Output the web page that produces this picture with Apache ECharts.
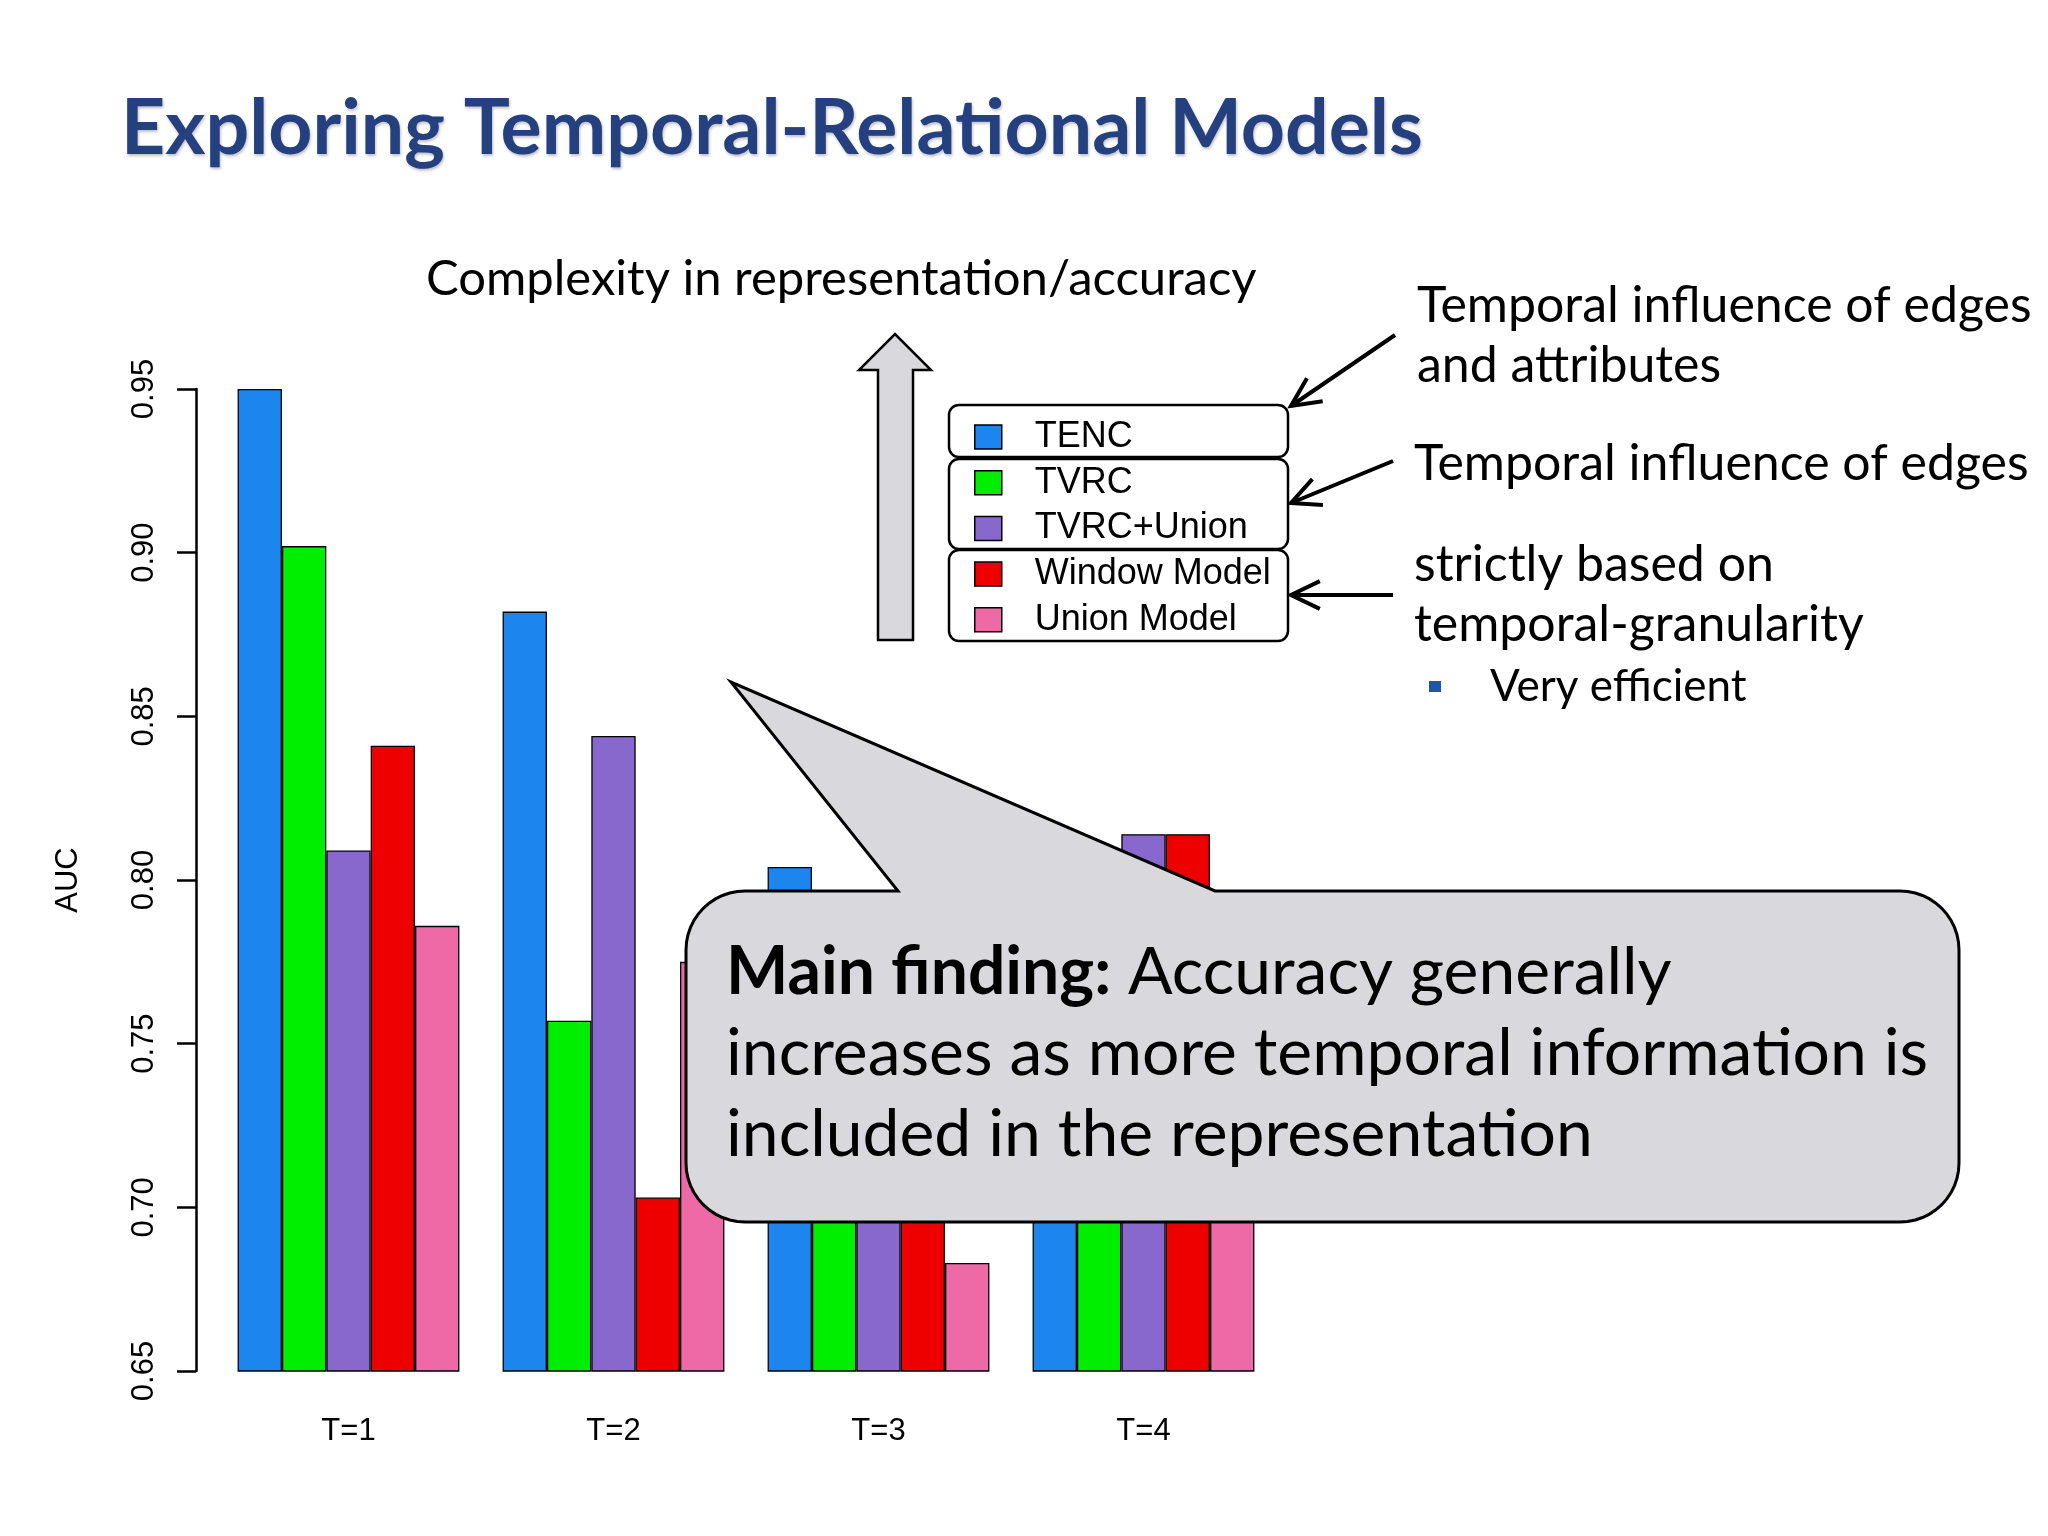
<!DOCTYPE html>
<html>
<head>
<meta charset="utf-8">
<title>Exploring Temporal-Relational Models</title>
<script src="https://cdn.jsdelivr.net/npm/echarts@6/dist/echarts.min.js"></script>
<style>
  html, body { margin: 0; padding: 0; background: #fff; }
  #main { width: 2048px; height: 1536px; }
</style>
</head>
<body>
<div id="main"></div>
<script>
// AUC per time window, one array per model
var categories = ['T=1', 'T=2', 'T=3', 'T=4'];
var seriesNames = ['TENC', 'TVRC', 'TVRC+Union', 'Window Model', 'Union Model'];
var tenc = [0.950, 0.882, 0.804, 0.810];
var tvrc = [0.902, 0.757, 0.770, 0.780];
var tvrcUnion = [0.809, 0.844, 0.785, 0.814];
var windowModel = [0.841, 0.703, 0.760, 0.814];
var unionModel = [0.786, 0.775, 0.683, 0.740];
var colors = ['#1C86EE', '#00EE00', '#8968CD', '#EE0000', '#EE6AA7'];

var slideFont = 'Lato, "Open Sans", sans-serif';
var plotFont = '"Liberation Sans", Arial, sans-serif';

var chart = echarts.init(document.getElementById('main'));

// line with an open arrow head at (x2, y2)
function arrow(x1, y1, x2, y2) {
  var a = Math.atan2(y1 - y2, x1 - x2);
  var len = 32, spread = 0.45;
  var st = { stroke: '#000', lineWidth: 4, fill: null };
  return [{
    type: 'line', z: 50,
    shape: { x1: x1, y1: y1, x2: x2, y2: y2 },
    style: st
  }, {
    type: 'polyline', z: 50,
    shape: { points: [
      [x2 + len * Math.cos(a + spread), y2 + len * Math.sin(a + spread)],
      [x2, y2],
      [x2 + len * Math.cos(a - spread), y2 + len * Math.sin(a - spread)]
    ] },
    style: st
  }];
}

function roundBox(x, y, w, h) {
  return {
    type: 'rect', z: 50,
    shape: { x: x, y: y, width: w, height: h, r: 10 },
    style: { fill: 'rgba(0,0,0,0)', stroke: '#000', lineWidth: 2.5 }
  };
}

function slideText(txt, x, y, size, extra) {
  var st = {
    text: txt, x: x, y: y,
    fontFamily: slideFont, fontSize: size,
    fill: '#000', verticalAlign: 'middle', align: 'left'
  };
  for (var k in extra) st[k] = extra[k];
  return { type: 'text', z: 60, style: st };
}

// rounded box with a pointer on its top edge
function calloutPoints(x1, y1, x2, y2, r, tip, baseL, baseR) {
  var pts = [];
  function arc(cx, cy, a0, a1) {
    for (var i = 0; i <= 12; i++) {
      var a = a0 + (a1 - a0) * i / 12;
      pts.push([cx + r * Math.cos(a), cy + r * Math.sin(a)]);
    }
  }
  arc(x1 + r, y1 + r, Math.PI, 1.5 * Math.PI);
  pts.push([baseL, y1], tip, [baseR, y1]);
  arc(x2 - r, y1 + r, 1.5 * Math.PI, 2 * Math.PI);
  arc(x2 - r, y2 - r, 0, 0.5 * Math.PI);
  arc(x1 + r, y2 - r, 0.5 * Math.PI, Math.PI);
  return pts;
}

var seriesData = [tenc, tvrc, tvrcUnion, windowModel, unionModel];
var series = [];
seriesData.forEach(function(vals, i) {
  series.push({
    name: seriesNames[i],
    type: 'bar',
    data: vals,
    barGap: '0%',
    barCategoryGap: '16.3%',
    itemStyle: { color: colors[i], borderColor: '#000', borderWidth: 1.3 },
    emphasis: { disabled: true }
  });
});

var graphics = [
  // slide title
  slideText('Exploring Temporal-Relational Models', 121, 129, 77, {
    fontWeight: 'bold', fill: '#24407F',
    textShadowColor: 'rgba(0,0,40,0.25)', textShadowBlur: 3,
    textShadowOffsetX: 1, textShadowOffsetY: 2
  }),
  slideText('Complexity in representation/accuracy', 426, 279, 49),
  // big grey arrow
  {
    type: 'polygon', z: 40,
    shape: { points: [[878, 640], [878, 370], [859, 370], [895, 334], [931, 370], [913, 370], [913, 640]] },
    style: { fill: '#D9D8DC', stroke: '#000', lineWidth: 2.5 }
  },
  // legend frames
  roundBox(949, 405, 339, 52),
  roundBox(949, 459, 339, 90),
  roundBox(949, 550, 339, 91),
  slideText('Temporal influence of edges', 1417, 306, 50),
  slideText('and attributes', 1417, 366, 50),
  slideText('Temporal influence of edges', 1414, 464, 50),
  slideText('strictly based on', 1414, 565, 50),
  slideText('temporal-granularity', 1414, 625, 50),
  {
    type: 'rect', z: 60,
    shape: { x: 1429, y: 681, width: 12, height: 11 },
    style: { fill: '#1F56A3' }
  },
  slideText('Very efficient', 1490, 687, 44),
  // callout bubble above the bars
  {
    type: 'polygon', z: 80,
    shape: { points: calloutPoints(686, 891, 1959, 1222, 59, [731, 682], 898, 1215) },
    style: { fill: '#D9D8DC', stroke: '#000', lineWidth: 3 }
  },
  {
    type: 'text', z: 90,
    style: {
      text: '{b|Main finding:} Accuracy generally\n' +
        'increases as more temporal information is\n' +
        'included in the representation',
      x: 726, y: 1054,
      fontFamily: slideFont, fontSize: 66, lineHeight: 81,
      fill: '#000', verticalAlign: 'middle', align: 'left',
      rich: {
        b: { fontFamily: slideFont, fontSize: 66, fontWeight: 'bold', fill: '#000', lineHeight: 81 }
      }
    }
  }
];
graphics = graphics.concat(
  arrow(1395, 335, 1291, 406),
  arrow(1393, 461, 1291, 503),
  arrow(1393, 595, 1291, 595)
);

chart.setOption({
  animation: false,
  backgroundColor: '#fff',
  color: colors,
  grid: {
    left: 216,
    width: 1060,
    top: 389,
    height: 982,
    containLabel: false
  },
  xAxis: {
    type: 'category',
    data: categories,
    axisLine: { show: false },
    axisTick: { show: false },
    axisLabel: {
      fontFamily: plotFont, fontSize: 31, color: '#000', margin: 45
    }
  },
  yAxis: {
    type: 'value',
    min: 0.65,
    max: 0.95,
    interval: 0.05,
    offset: 20,
    name: 'AUC',
    nameLocation: 'middle',
    nameRotate: 90,
    nameGap: 112,
    nameTextStyle: { fontFamily: plotFont, fontSize: 31, color: '#000' },
    splitLine: { show: false },
    axisLine: { show: true, lineStyle: { color: '#000', width: 2.5 } },
    axisTick: { show: true, length: 19, lineStyle: { color: '#000', width: 2.5 } },
    axisLabel: {
      rotate: 90,
      margin: 36,
      fontFamily: plotFont, fontSize: 31, color: '#000',
      formatter: function(v) { return v.toFixed(2); }
    }
  },
  legend: {
    data: seriesNames,
    orient: 'vertical',
    left: 969,
    top: 414,
    itemWidth: 27,
    itemHeight: 24,
    itemGap: 9.7,
    icon: 'rect',
    selectedMode: false,
    itemStyle: { borderColor: '#000', borderWidth: 1.5 },
    textStyle: {
      fontFamily: plotFont, fontSize: 36, color: '#000',
      lineHeight: 36, padding: [0, 0, 0, 28]
    }
  },
  graphic: graphics,
  series: series
});
</script>
</body>
</html>
